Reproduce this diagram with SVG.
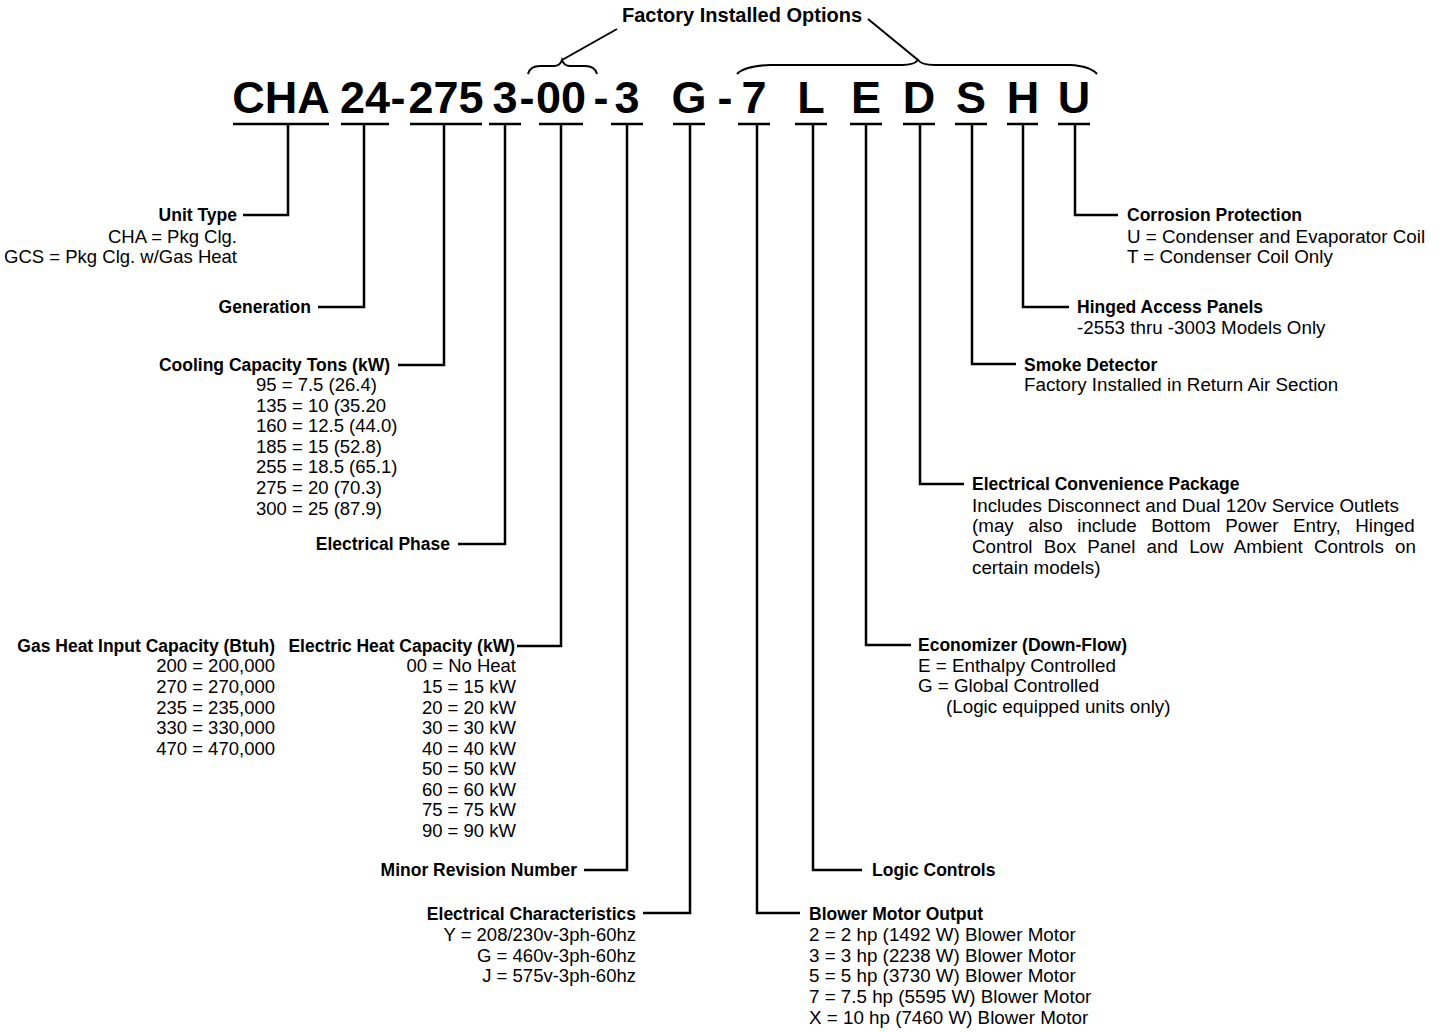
<svg xmlns="http://www.w3.org/2000/svg" width="1444" height="1032" viewBox="0 0 1444 1032">
<style>
text{font-family:"Liberation Sans",Arial,Helvetica,sans-serif;fill:#000}
.code{font-size:45px;font-weight:bold;text-anchor:middle}
.b{font-size:17.5px;font-weight:bold}
.r{font-size:18.8px}
.n{font-size:18.5px}
.e{text-anchor:end}
.ln{fill:none;stroke:#000;stroke-width:2.5;stroke-linejoin:miter;stroke-linecap:butt}
.br{fill:none;stroke:#000;stroke-width:2}
</style>
<rect width="1444" height="1032" fill="#fff"/>

<g id="header">
<text class="b" x="622" y="22" style="font-size:20px">Factory Installed Options</text>
<path class="br" d="M528,74 Q530,66 540,66 L554,66 Q560,66 562,60 Q564,66 570,66 L585,66 Q595,66 597,74"/>
<path class="br" d="M737,74 Q745,66 770,65 L902,65 Q914,65 918,60 Q922,65 934,65 L1070,65 Q1090,66 1097,74"/>
<line class="br" x1="562" y1="60" x2="617" y2="29"/>
<line class="br" x1="868" y1="19" x2="918" y2="60"/>
</g>

<g id="code">
<text class="code" x="281" y="113">CHA</text>
<text class="code" x="365" y="113">24</text>
<text class="code" x="398" y="113">-</text>
<text class="code" x="446" y="113">275</text>
<text class="code" x="505" y="113">3</text>
<text class="code" x="527" y="113">-</text>
<text class="code" x="561" y="113">00</text>
<text class="code" x="601" y="113">-</text>
<text class="code" x="627" y="113">3</text>
<text class="code" x="689" y="113">G</text>
<text class="code" x="725" y="113">-</text>
<text class="code" x="754" y="113">7</text>
<text class="code" x="811" y="113">L</text>
<text class="code" x="866" y="113">E</text>
<text class="code" x="919" y="113">D</text>
<text class="code" x="971" y="113">S</text>
<text class="code" x="1023" y="113">H</text>
<text class="code" x="1074" y="113">U</text>
</g>

<g id="connectors">
<g class="ln">
<line x1="233" y1="124" x2="329" y2="124"/>
<line x1="341" y1="124" x2="389" y2="124"/>
<line x1="410" y1="124" x2="482" y2="124"/>
<line x1="489" y1="124" x2="521" y2="124"/>
<line x1="539" y1="124" x2="583" y2="124"/>
<line x1="611" y1="124" x2="643" y2="124"/>
<line x1="673" y1="124" x2="705" y2="124"/>
<line x1="738" y1="124" x2="770" y2="124"/>
<line x1="795" y1="124" x2="827" y2="124"/>
<line x1="850" y1="124" x2="882" y2="124"/>
<line x1="903" y1="124" x2="935" y2="124"/>
<line x1="955" y1="124" x2="987" y2="124"/>
<line x1="1007" y1="124" x2="1038" y2="124"/>
<line x1="1058" y1="124" x2="1090" y2="124"/>
<polyline points="288,124 288,215 243,215"/>
<polyline points="364,124 364,307 318,307"/>
<polyline points="444,124 444,365 398,365"/>
<polyline points="505,124 505,544 458,544"/>
<polyline points="561,124 561,646 517,646"/>
<polyline points="627,124 627,870 584,870"/>
<polyline points="690,124 690,913 643,913"/>
<polyline points="757,124 757,913 800,913"/>
<polyline points="813,124 813,870 862,870"/>
<polyline points="866,124 866,645 911,645"/>
<polyline points="920,124 920,484 964,484"/>
<polyline points="972,124 972,364 1016,364"/>
<polyline points="1023,124 1023,307 1069,307"/>
<polyline points="1075,124 1075,215 1118,215"/>
</g>
</g>

<g id="unit-type">
<text class="b e" x="237" y="221">Unit Type</text>
<text class="n e" x="237" y="243">CHA = Pkg Clg.</text>
<text class="n e" x="237" y="263">GCS = Pkg Clg. w/Gas Heat</text>
</g>

<g id="generation">
<text class="b e" x="311" y="313">Generation</text>
</g>

<g id="cooling-capacity">
<text class="b e" x="390" y="371">Cooling Capacity Tons (kW)</text>
<text class="n" x="256" y="391">95 = 7.5 (26.4)</text>
<text class="n" x="256" y="412">135 = 10 (35.20</text>
<text class="n" x="256" y="432">160 = 12.5 (44.0)</text>
<text class="n" x="256" y="453">185 = 15 (52.8)</text>
<text class="n" x="256" y="473">255 = 18.5 (65.1)</text>
<text class="n" x="256" y="494">275 = 20 (70.3)</text>
<text class="n" x="256" y="515">300 = 25 (87.9)</text>
</g>

<g id="electrical-phase">
<text class="b e" x="450" y="550">Electrical Phase</text>
</g>

<g id="gas-heat">
<text class="b e" x="275" y="652">Gas Heat Input Capacity (Btuh)</text>
<text class="n e" x="275" y="672">200 = 200,000</text>
<text class="n e" x="275" y="693">270 = 270,000</text>
<text class="n e" x="275" y="714">235 = 235,000</text>
<text class="n e" x="275" y="734">330 = 330,000</text>
<text class="n e" x="275" y="755">470 = 470,000</text>
</g>

<g id="electric-heat">
<text class="b e" x="515" y="652">Electric Heat Capacity (kW)</text>
<text class="n e" x="516" y="672">00 = No Heat</text>
<text class="n e" x="516" y="693">15 = 15 kW</text>
<text class="n e" x="516" y="714">20 = 20 kW</text>
<text class="n e" x="516" y="734">30 = 30 kW</text>
<text class="n e" x="516" y="755">40 = 40 kW</text>
<text class="n e" x="516" y="775">50 = 50 kW</text>
<text class="n e" x="516" y="796">60 = 60 kW</text>
<text class="n e" x="516" y="816">75 = 75 kW</text>
<text class="n e" x="516" y="837">90 = 90 kW</text>
</g>

<g id="minor-revision">
<text class="b e" x="577" y="876">Minor Revision Number</text>
</g>

<g id="electrical-characteristics">
<text class="b e" x="636" y="920">Electrical Characteristics</text>
<text class="n e" x="636" y="941">Y = 208/230v-3ph-60hz</text>
<text class="n e" x="636" y="962">G = 460v-3ph-60hz</text>
<text class="n e" x="636" y="982">J = 575v-3ph-60hz</text>
</g>

<g id="blower-motor">
<text class="b" x="809" y="920">Blower Motor Output</text>
<text class="r" x="809" y="941">2 = 2 hp (1492 W) Blower Motor</text>
<text class="r" x="809" y="962">3 = 3 hp (2238 W) Blower Motor</text>
<text class="r" x="809" y="982">5 = 5 hp (3730 W) Blower Motor</text>
<text class="r" x="809" y="1003">7 = 7.5 hp (5595 W) Blower Motor</text>
<text class="r" x="809" y="1024">X = 10 hp (7460 W) Blower Motor</text>
</g>

<g id="logic-controls">
<text class="b" x="872" y="876">Logic Controls</text>
</g>

<g id="economizer">
<text class="b" x="918" y="651">Economizer (Down-Flow)</text>
<text class="r" x="918" y="672">E = Enthalpy Controlled</text>
<text class="r" x="918" y="692">G = Global Controlled</text>
<text class="r" x="946" y="713">(Logic equipped units only)</text>
</g>

<g id="electrical-convenience">
<text class="b" x="972" y="490">Electrical Convenience Package</text>
<text class="r" x="972" y="512">Includes Disconnect and Dual 120v Service Outlets</text>
<text class="r" x="972" y="532" word-spacing="9.3">(may also include Bottom Power Entry, Hinged</text>
<text class="r" x="972" y="553" word-spacing="6">Control Box Panel and Low Ambient Controls on</text>
<text class="r" x="972" y="574">certain models)</text>
</g>

<g id="smoke-detector">
<text class="b" x="1024" y="371">Smoke Detector</text>
<text class="r" x="1024" y="391">Factory Installed in Return Air Section</text>
</g>

<g id="hinged-access">
<text class="b" x="1077" y="313">Hinged Access Panels</text>
<text class="r" x="1077" y="334">-2553 thru -3003 Models Only</text>
</g>

<g id="corrosion-protection">
<text class="b" x="1127" y="221">Corrosion Protection</text>
<text class="r" x="1127" y="243">U = Condenser and Evaporator Coil</text>
<text class="r" x="1127" y="263">T = Condenser Coil Only</text>
</g>
</svg>
